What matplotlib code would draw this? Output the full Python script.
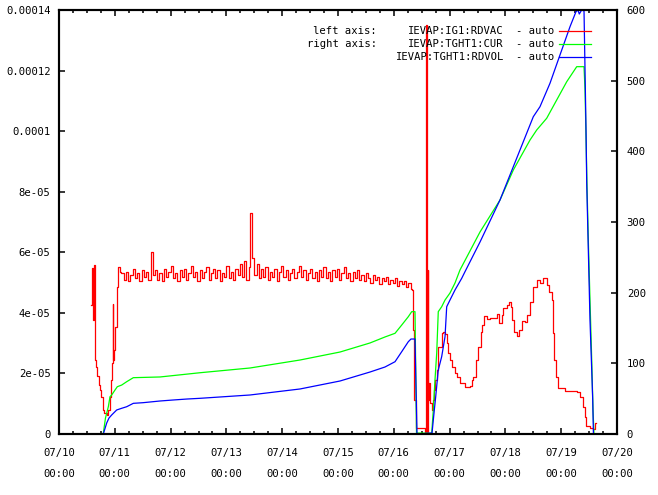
import numpy as np
import matplotlib
matplotlib.use('Agg')
import matplotlib.pyplot as plt

# time axis: days since 07/10 00:00
day_labels = ['07/10', '07/11', '07/12', '07/13', '07/14', '07/15',
              '07/16', '07/17', '07/18', '07/19', '07/20']

# IEVAP:IG1:RDVAC (left axis, units of 1e-5)
red_t = [0.582, 0.600, 0.618, 0.636, 0.651, 0.663, 0.681, 0.708, 0.735, 0.753,
         0.780, 0.797, 0.815, 0.855, 0.884, 0.914, 0.932, 0.950, 0.962, 0.968,
         0.991, 1.009, 1.034, 1.063, 1.093,
         1.12, 1.16, 1.20, 1.24, 1.28, 1.32, 1.36, 1.40, 1.44, 1.48, 1.52, 1.56,
         1.60, 1.64, 1.68, 1.72, 1.76, 1.80, 1.84, 1.88, 1.92, 1.96, 2.00, 2.04,
         2.08, 2.12, 2.16, 2.20, 2.24, 2.28, 2.32, 2.36, 2.40, 2.44, 2.48, 2.52,
         2.56, 2.60, 2.64, 2.68, 2.72, 2.76, 2.80, 2.84, 2.88, 2.92, 2.96, 3.00,
         3.04, 3.08, 3.12, 3.16, 3.20, 3.24, 3.28, 3.32, 3.36, 3.40, 3.43, 3.46,
         3.50, 3.54, 3.58, 3.62, 3.66, 3.70, 3.74, 3.78, 3.82, 3.86, 3.90, 3.94,
         3.98, 4.02, 4.06, 4.10, 4.14, 4.18, 4.22, 4.26, 4.30, 4.34, 4.38, 4.42,
         4.46, 4.50, 4.54, 4.58, 4.62, 4.66, 4.70, 4.74, 4.78, 4.82, 4.86, 4.90,
         4.94, 4.98, 5.02, 5.06, 5.10, 5.14, 5.18, 5.22, 5.26, 5.30, 5.34, 5.38,
         5.42, 5.46, 5.50, 5.54, 5.58, 5.62, 5.66, 5.70, 5.74, 5.78, 5.82, 5.86,
         5.90, 5.94, 5.98, 6.02, 6.06, 6.10, 6.14, 6.18, 6.22, 6.26, 6.30,
         6.321, 6.344, 6.362, 6.392, 6.541, 6.559, 6.582, 6.595, 6.604, 6.613,
         6.625, 6.640, 6.654, 6.685, 6.708, 6.726, 6.738, 6.769, 6.797, 6.858,
         6.887, 6.918, 6.948, 6.977, 7.007, 7.038, 7.097, 7.127, 7.186, 7.276,
         7.366, 7.396, 7.425, 7.473, 7.514, 7.557, 7.586, 7.616, 7.665, 7.724,
         7.814, 7.855, 7.885, 7.934, 7.962, 8.023, 8.070, 8.100, 8.124, 8.159,
         8.203, 8.244, 8.292, 8.351, 8.393, 8.441, 8.500, 8.561, 8.620, 8.679,
         8.740, 8.787, 8.830, 8.848, 8.871, 8.901, 8.948, 9.068, 9.278, 9.337,
         9.385, 9.427, 9.444, 9.516, 9.570, 9.606, 9.624]
red_v = [4.26, 5.48, 3.76, 5.58, 2.44, 2.21, 1.92, 1.62, 1.45, 1.22,
         1.22, 0.79, 0.69, 0.63, 0.79, 1.22, 1.78, 2.34, 4.29, 2.44,
         2.77, 3.53, 4.85, 5.51, 5.35,
         5.30, 5.10, 5.35, 5.05, 5.25, 5.45, 5.15, 5.30, 5.05, 5.40, 5.20, 5.35,
         5.10, 6.00, 5.25, 5.40, 5.10, 5.30, 5.05, 5.45, 5.20, 5.35, 5.55, 5.15,
         5.30, 5.05, 5.40, 5.20, 5.45, 5.10, 5.30, 5.55, 5.20, 5.35, 5.05, 5.40,
         5.15, 5.35, 5.50, 5.10, 5.30, 5.45, 5.15, 5.40, 5.05, 5.30, 5.20, 5.55,
         5.15, 5.35, 5.10, 5.45, 5.25, 5.60, 5.20, 5.70, 5.10, 5.50, 7.30, 5.80,
         5.25, 5.60, 5.15, 5.45, 5.20, 5.50, 5.10, 5.35, 5.20, 5.45, 5.05, 5.35,
         5.55, 5.20, 5.40, 5.10, 5.30, 5.45, 5.15, 5.35, 5.55, 5.20, 5.40, 5.10,
         5.30, 5.45, 5.15, 5.35, 5.05, 5.40, 5.20, 5.50, 5.15, 5.35, 5.05, 5.40,
         5.20, 5.45, 5.10, 5.30, 5.50, 5.15, 5.30, 5.05, 5.35, 5.15, 5.40, 5.10,
         5.25, 5.05, 5.30, 5.15, 5.00, 5.25, 5.10, 5.20, 4.95, 5.15, 5.05, 5.20,
         4.95, 5.10, 5.00, 5.15, 4.90, 5.05, 4.95, 5.05, 4.85, 5.00, 4.80,
         4.75, 3.43, 1.12, 0.21, 0.21, 0.00, 13.5, 0.00, 5.40, 1.12,
         1.68, 1.22, 1.02, 0.79, 1.12, 1.45, 1.78, 2.11, 2.87, 3.33,
         3.37, 3.30, 3.00, 2.67, 2.44, 2.21, 2.01, 1.88, 1.68, 1.55,
         1.58, 1.78, 1.88, 2.44, 2.87, 3.37, 3.60, 3.90, 3.80, 3.83,
         3.83, 3.96, 3.66, 3.93, 4.16, 4.26, 4.36, 4.19, 3.76, 3.37,
         3.24, 3.43, 3.73, 3.70, 3.93, 4.36, 4.85, 5.08, 4.99, 5.15,
         4.92, 4.69, 4.42, 3.33, 2.44, 1.88, 1.52, 1.42, 1.39, 1.22,
         0.89, 0.56, 0.26, 0.20, 0.17, 0.36, 0.36]

# IEVAP:TGHT1:CUR (right axis)
green_t = [0.794, 0.833, 0.884, 0.914, 0.944, 1.004, 1.045, 1.124, 1.213, 1.332,
           1.810, 2.527, 3.423, 4.319, 5.036, 5.573, 5.842, 6.022, 6.142, 6.260,
           6.321, 6.380, 6.407, 6.679, 6.708, 6.738, 6.769, 6.797, 6.858, 6.918,
           7.007, 7.097, 7.186, 7.545, 7.903, 8.142, 8.441, 8.561, 8.740, 8.919,
           9.099, 9.278, 9.409, 9.427, 9.444, 9.462, 9.486, 9.516, 9.547, 9.570,
           9.588]
green_v = [1, 22.6, 38.6, 52.8, 55.2, 62.3, 66.9, 69.3, 74.0, 79.7,
           80.7, 86.7, 93.4, 104.7, 116.0, 128.8, 137.3, 142.5, 154.2, 166.0,
           173.1, 173.1, 1.4, 1, 34, 76.4, 114.6, 173.1, 180.1, 189.6,
           199.5, 213.7, 232.1, 285.9, 331.1, 373.6, 416.0, 430.2, 446.8, 472.6,
           498.5, 519.8, 519.8, 486.8, 423.1, 352.4, 274.5, 189.6, 104.7, 34,
           0]

# IEVAP:TGHT1:RDVOL (right axis)
blue_t = [0.794, 0.855, 0.896, 0.944, 1.034, 1.124, 1.213, 1.332, 1.505, 1.810,
          2.043, 2.294, 2.527, 3.423, 4.319, 5.036, 5.573, 5.842, 6.022, 6.142,
          6.260, 6.308, 6.380, 6.416, 6.685, 6.726, 6.751, 6.797, 6.858, 6.918,
          6.948, 7.007, 7.097, 7.217, 7.276, 7.545, 7.903, 8.142, 8.500, 8.620,
          8.799, 8.978, 9.158, 9.265, 9.301, 9.324, 9.367, 9.409, 9.444, 9.457,
          9.486, 9.516, 9.547, 9.565, 9.577]
blue_v = [0, 15.6, 22.6, 26.9, 34.0, 36.4, 38.6, 43.4, 44.3, 46.7,
          48.1, 49.5, 50.5, 55.2, 63.7, 75.0, 87.7, 94.8, 102.3, 116.5,
          130.6, 134.4, 134.4, 0, 1.4, 34, 52.8, 90.6, 109.4, 137.7,
          180.1, 189.6, 203.8, 220.3, 229.7, 271.7, 331.1, 378.3, 449.0, 463.2,
          496.3, 536.3, 576.4, 597.6, 600, 594.3, 600, 598.6, 434.4, 356.6,
          260.4, 161.3, 90.6, 48.1, 1.4]

left_ticks = [0, 2e-05, 4e-05, 6e-05, 8e-05, 0.0001, 0.00012, 0.00014]
left_labels = ['0', '2e-05', '4e-05', '6e-05', '8e-05', '0.0001', '0.00012', '0.00014']
right_ticks = [0, 100, 200, 300, 400, 500, 600]

plt.rcParams['font.family'] = ['DejaVu Sans Mono']
plt.rcParams['font.size'] = 7.6

fig = plt.figure(figsize=(6.58, 4.95), dpi=100)
W, H = 658.0, 495.0
ax = fig.add_axes([59 / W, 1 - 434 / H, (617 - 59) / W, (434 - 10) / H])
ax2 = ax.twinx()

ax.plot(red_t, np.array(red_v) * 1e-5, color='#ff0000', lw=0.9, drawstyle='steps-post')
ax2.plot(green_t, green_v, color='#00ff00', lw=0.9)
ax2.plot(blue_t, blue_v, color='#0000ff', lw=0.9)

ax.set_xlim(0, 10)
ax.set_ylim(0, 0.00014)
ax2.set_ylim(0, 600)

ax.set_xticks(range(11))
ax.set_xticklabels([d + '\n00:00' for d in day_labels], linespacing=2.45)
ax.set_xticks(np.arange(0, 10.01, 0.25), minor=True)
ax.set_yticks(left_ticks)
ax.set_yticklabels(left_labels)
ax2.set_yticks(right_ticks)

ax.tick_params(axis='x', which='both', direction='in', top=True, bottom=True)
ax.tick_params(axis='x', which='major', length=4, width=1.1, pad=10)
ax.tick_params(axis='x', which='minor', length=2, width=1.1)
ax.tick_params(axis='y', direction='in', length=4, width=1.1, pad=6, right=False)
ax2.tick_params(axis='y', direction='in', length=4, width=1.1, pad=7)

for a in (ax, ax2):
    for s in a.spines.values():
        s.set_linewidth(1.5)

# key, gnuplot style
rows = [('left axis:', 'IEVAP:IG1:RDVAC', '#ff0000', 31),
        ('right axis:', 'IEVAP:TGHT1:CUR', '#00ff00', 44),
        ('', 'IEVAP:TGHT1:RDVOL', '#0000ff', 57)]
for pre, name, col, py in rows:
    fy = 1 - py / H
    if pre:
        fig.text(377 / W, fy, pre, ha='right', va='center')
    fig.text(504 / W, fy, name, ha='right', va='center')
    fig.text(516 / W, fy, '- auto', ha='left', va='center')
    ax2.plot([(559 - 59) / 558, (591 - 59) / 558], [(434 - py) / 424] * 2,
             color=col, lw=0.9, transform=ax2.transAxes, clip_on=False)

fig.savefig('out.png', dpi=100)
